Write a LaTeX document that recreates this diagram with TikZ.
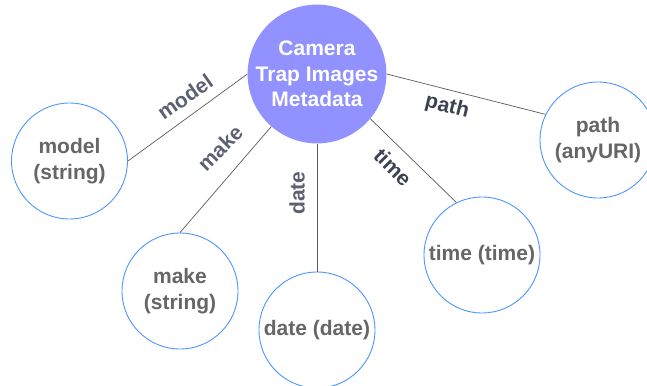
\documentclass[tikz,border=0pt]{standalone}
\usepackage{fontspec}
\setmainfont{Liberation Sans}
\definecolor{hubfill}{HTML}{9191FF}
\definecolor{ringblue}{HTML}{4D94FF}
\definecolor{fieldtext}{HTML}{666666}
\definecolor{linkgray}{HTML}{5A5A5A}
\definecolor{labelsoft}{HTML}{5B6171}
\definecolor{labeldark}{HTML}{3C4250}
\begin{document}
\begin{tikzpicture}[x=1pt,y=-1pt,
  every node/.style={font=\fontsize{21}{25.5}\selectfont\bfseries},
  hub/.style={circle,fill=hubfill,text=white,minimum size=132pt,inner sep=0pt,align=center},
  field/.style={circle,draw=ringblue,line width=0.9pt,text=fieldtext,minimum size=116pt,inner sep=0pt,align=center},
  link/.style={draw=linkgray,line width=0.7pt},
  tag/.style={inner sep=0pt,text=labelsoft},
  darktag/.style={inner sep=0pt,text=labeldark}]
\useasboundingbox (0,0) rectangle (647,385);

% hub and attribute circles
\node[hub] (hub) at (317,74) {Camera\\Trap Images\\Metadata};
\node[field] (model) at (69.5,161) {model\\(string)};
\node[field] (make) at (180,291) {make\\(string)};
\node[field] (date) at (317,330) {date (date)};
\node[field] (time) at (482,255) {time (time)};
\node[field] (path) at (598,140) {path\\(anyURI)};

% connectors
\draw[link] (model.east) -- (hub.west);
\draw[link] (make.north) -- (hub.229);
\draw[link] (date.north) -- (hub.south);
\draw[link] (time.116) -- (hub.-40);
\draw[link] (path.154) -- (hub.east);

% connector labels
\node[tag,rotate=35] (lmodel) at (185,97) {model};
\node[tag,rotate=45] (lmake) at (220,148) {make};
\node[tag,rotate=90] (ldate) at (297,193) {date};
\node[darktag,rotate=-45] (ltime) at (393,167) {time};
\node[darktag,rotate=-14] (lpath) at (447,107) {path};
\end{tikzpicture}
\end{document}
